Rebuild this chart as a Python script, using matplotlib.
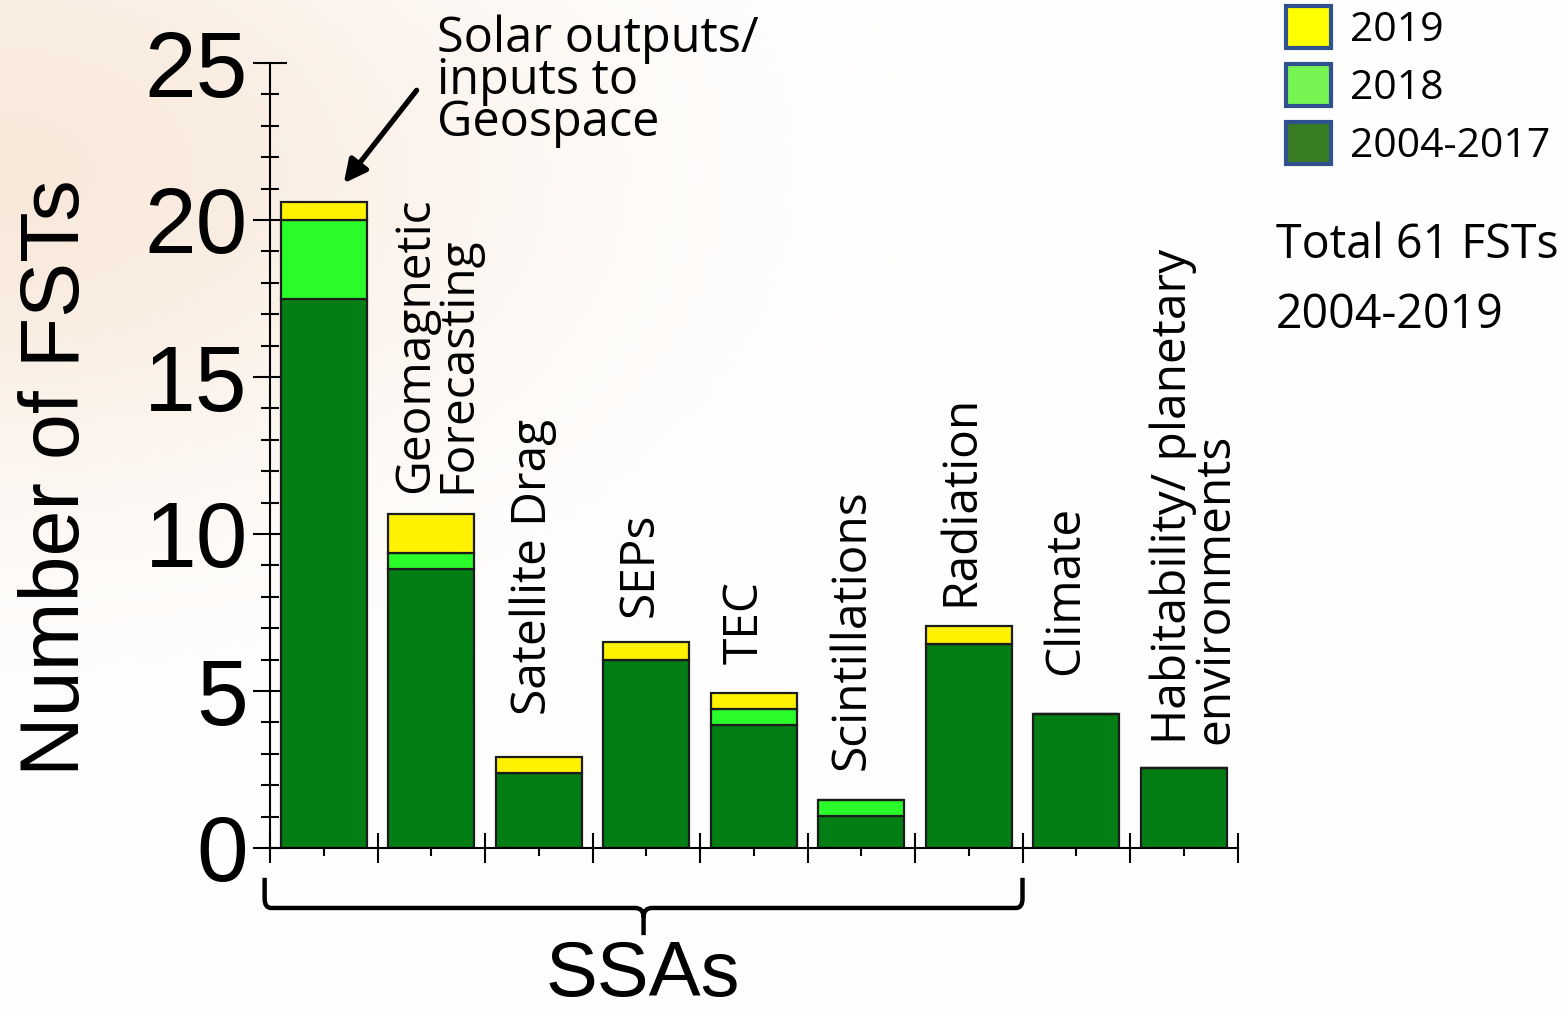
import numpy as np
import matplotlib
matplotlib.use("Agg")
import matplotlib.pyplot as plt
from matplotlib.patches import Patch, PathPatch
from matplotlib.path import Path
import matplotlib.transforms as mtransforms

# data
categories = ["Solar outputs/\ninputs to\nGeospace", "Geomagnetic\nForecasting", "Satellite Drag",
              "SEPs", "TEC", "Scintillations", "Radiation", "Climate",
              "Habitability/ planetary\nenvironments"]
base_2004_2017 = [17.5, 8.9, 2.4, 6.0, 3.92, 1.02, 6.5, 4.27, 2.55]
add_2018 = [2.5, 0.5, 0.0, 0.0, 0.51, 0.51, 0.0, 0.0, 0.0]
add_2019 = [0.57, 1.23, 0.5, 0.56, 0.51, 0.0, 0.57, 0.0, 0.0]
legend_labels = ["2019", "2018", "2004-2017"]
total_text = "Total 61 FSTs\n2004-2019"

# where the rotated category labels sit (x in bar units, y bottom in data units)
label_pos = [None, (1.05, 11.3), (1.95, 4.25), (2.94, 7.35), (3.92, 5.85),
             (4.91, 2.5), (5.92, 7.7), (6.9, 5.5), (8.1, 3.3)]

dark = "#037e14"
light = "#2afc2a"
yellow = "#fff200"
edge = "#1c1c1c"

fig = plt.figure(figsize=(15.62, 10.14), dpi=100)

# faint peach glow in the top-left corner
bg = fig.add_axes([0, 0, 1, 1], zorder=-5)
yy, xx = np.mgrid[0:1014, 0:1562]
d = np.sqrt((xx / 1.35) ** 2 + ((yy - 170) / 0.85) ** 2)
w = np.exp(-(d / 380.0) ** 2)
img = np.ones((1014, 1562, 3))
img[..., 0] = 1 - w * 0.025
img[..., 1] = 1 - w * 0.085
img[..., 2] = 1 - w * 0.14
bg.imshow(img, aspect="auto", extent=(0, 1, 0, 1))
bg.axis("off")

ax = fig.add_axes([270 / 1562, 1 - 848 / 1014, (1237.5 - 270) / 1562, (848 - 63) / 1014])
ax.patch.set_alpha(0)

x = np.arange(len(categories))
b0 = np.array(base_2004_2017)
b1 = np.array(add_2018)
b2 = np.array(add_2019)
ax.bar(x, b0, 0.8, color=dark, edgecolor=edge, linewidth=1.6, zorder=3)
ax.bar(x, b1, 0.8, bottom=b0, color=light, edgecolor=edge, linewidth=1.6, zorder=3)
ax.bar(x, b2, 0.8, bottom=b0 + b1, color=yellow, edgecolor=edge, linewidth=1.6, zorder=3)

ax.set_xlim(-0.5, 8.5)
ax.set_ylim(0, 25)
for s in ["top", "right"]:
    ax.spines[s].set_visible(False)
for s in ["left", "bottom"]:
    ax.spines[s].set_linewidth(1.5)
    ax.spines[s].set_zorder(4)

ax.set_yticks(np.arange(0, 26, 5))
ax.set_yticks(np.arange(0, 26, 1), minor=True)
ax.set_xticks(np.arange(-0.5, 9, 1))
ax.set_xticks(x, minor=True)
ax.set_xticklabels([])
ax.tick_params(axis="y", which="major", direction="inout", length=24, width=1.5, pad=4)
ax.tick_params(axis="y", which="minor", direction="inout", length=13, width=1.5)
ax.tick_params(axis="x", which="major", direction="inout", length=21, width=1.5)
ax.tick_params(axis="x", which="minor", direction="inout", length=11, width=1.5)
for t in ax.get_yticklabels():
    t.set_fontfamily("Liberation Sans")
    t.set_fontsize(67)

# category labels above the bars
for i, lab in enumerate(categories):
    if label_pos[i] is None:
        continue
    lx, ly = label_pos[i]
    ax.text(lx, ly, lab, rotation=90, ha="center", va="bottom", fontsize=34.5,
            family="Open Sans", linespacing=0.85, multialignment="left")

# first category gets an arrow instead
ax.annotate("", xy=(0.17, 21.1), xytext=(0.88, 24.2),
            arrowprops=dict(arrowstyle="-|>", color="black", lw=3.8, mutation_scale=34),
            annotation_clip=False)
fig.text(437 / 1562, 1 - 14 / 1014, categories[0], ha="left", va="top", fontsize=35,
         family="Open Sans", linespacing=0.8)

fig.text(57 / 1562, 1 - 478 / 1014, "Number of FSTs", rotation=90, ha="center", va="center",
         fontsize=59.5, family="Liberation Sans")
fig.text(643 / 1562, 1 - 996 / 1014, "SSAs", ha="center", va="baseline",
         fontsize=56, family="Liberation Sans")

# curly brace under the SSA group
trans = mtransforms.blended_transform_factory(ax.transData, ax.transAxes)
y0, y1, y2, y3 = -0.038, -0.0764, -0.088, -0.111
xl, xm, xr = -0.55, 2.975, 6.5
verts = [(xl, y0), (xl, y1 + 0.012), (xl, y1), (xl + 0.06, y1), (xm - 0.08, y1), (xm, y1), (xm, y2), (xm, y3),
         (xm, y2), (xm, y1), (xm + 0.08, y1), (xr - 0.06, y1), (xr, y1), (xr, y1 + 0.012), (xr, y0)]
codes = [Path.MOVETO, Path.LINETO, Path.CURVE3, Path.CURVE3, Path.LINETO, Path.CURVE3, Path.CURVE3, Path.LINETO,
         Path.MOVETO, Path.CURVE3, Path.CURVE3, Path.LINETO, Path.CURVE3, Path.CURVE3, Path.LINETO]
ax.add_patch(PathPatch(Path(verts, codes), facecolor="none", edgecolor="black", lw=3.2,
                       transform=trans, clip_on=False))

handles = [Patch(facecolor="#ffff00", edgecolor="#2f528f", linewidth=3),
           Patch(facecolor="#77f451", edgecolor="#2f528f", linewidth=3),
           Patch(facecolor="#387c24", edgecolor="#2f528f", linewidth=3)]
fig.legend(handles, legend_labels, loc="upper left", bbox_to_anchor=(1282 / 1562, 1 - 2 / 1014),
           frameon=False, handlelength=1.1, handleheight=1.2,
           handletextpad=0.45, labelspacing=0.32, borderpad=0.1, borderaxespad=0,
           prop={"family": "Open Sans", "size": 29.5})

fig.text(1276 / 1562, 1 - 222 / 1014, total_text, ha="left", va="top", fontsize=33.5,
         family="Open Sans", linespacing=1.6)

fig.savefig("out.png", dpi=100)
